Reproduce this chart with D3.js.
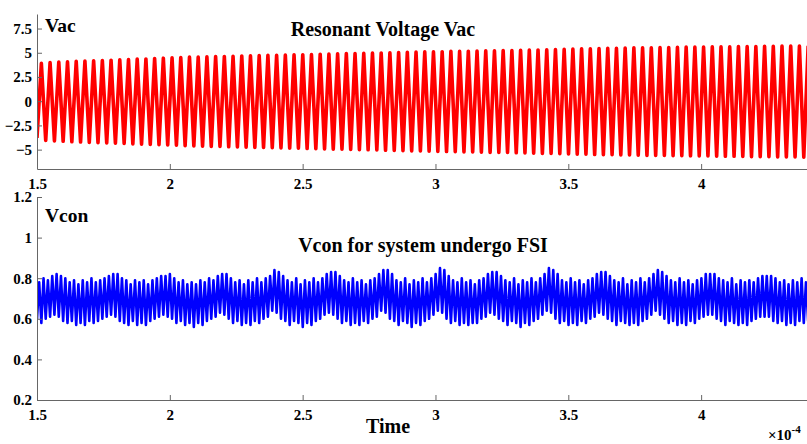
<!DOCTYPE html>
<html>
<head>
<meta charset="utf-8">
<script src="https://cdn.jsdelivr.net/npm/d3@7"></script>
<style>
  body { margin: 0; background: #fff; }
  svg text { font-family: "Liberation Serif", "Times New Roman", serif; font-weight: bold; fill: #000; }
</style>
</head>
<body>
<div id="chart"></div>
<script>
// tick labels
const xTicks = [1.5, 2, 2.5, 3, 3.5, 4];
const vacTicks = [-5, -2.5, 0, 2.5, 5, 7.5];
const vconTicks = [0.2, 0.4, 0.6, 0.8, 1, 1.2];

// time axis in units of 1e-4 s
const tStart = 1.5;
const vacPeriod = 0.0328;   // one Vac cycle
const vconPeriod = 0.0164;  // one Vcon ripple cycle

// Vac: peak and trough of each cycle
const vacPeak = [
  3.90,3.98,4.03,4.07,4.11,4.15,4.16,4.20,4.23,4.26,
  4.30,4.34,4.36,4.41,4.44,4.47,4.51,4.55,4.56,4.58,
  4.61,4.62,4.64,4.67,4.68,4.70,4.73,4.74,4.76,4.79,
  4.80,4.82,4.85,4.86,4.88,4.91,4.92,4.94,4.97,4.98,
  5.00,5.03,5.04,5.06,5.09,5.10,5.11,5.14,5.14,5.16,
  5.18,5.19,5.20,5.23,5.23,5.25,5.28,5.29,5.31,5.34,
  5.35,5.37,5.40,5.41,5.43,5.46,5.46,5.48,5.50,5.51,
  5.52,5.54,5.54,5.56,5.58,5.58,5.59,5.61,5.61,5.62,
  5.64,5.64,5.65,5.67,5.67,5.68,5.70,5.70,5.72
];
const vacTrough = [
  -3.80,-4.05,-4.10,-4.14,-4.19,-4.22,-4.25,-4.29,-4.31,-4.34,
  -4.37,-4.41,-4.43,-4.46,-4.50,-4.52,-4.55,-4.60,-4.62,-4.65,
  -4.66,-4.68,-4.71,-4.72,-4.74,-4.77,-4.78,-4.80,-4.83,-4.84,
  -4.86,-4.89,-4.90,-4.92,-4.95,-4.96,-4.98,-5.01,-5.02,-5.04,
  -5.07,-5.08,-5.10,-5.13,-5.14,-5.16,-5.19,-5.20,-5.21,-5.24,
  -5.24,-5.26,-5.28,-5.29,-5.30,-5.33,-5.34,-5.36,-5.39,-5.40,
  -5.42,-5.45,-5.46,-5.48,-5.51,-5.52,-5.53,-5.56,-5.56,-5.58,
  -5.60,-5.60,-5.61,-5.63,-5.63,-5.64,-5.66,-5.66,-5.67,-5.69,
  -5.69,-5.70,-5.72,-5.72,-5.73,-5.75,-5.75,-5.76,-5.77
];

// Vcon: high and low of each ripple cycle
const vconHigh = [
  0.78,0.80,0.79,0.81,
  0.82,0.81,0.80,0.78,0.79,0.77,0.79,0.78,0.80,0.78,0.79,0.80,0.81,
  0.82,0.82,0.80,0.79,0.77,0.79,0.78,0.79,0.77,0.79,0.80,0.81,
  0.81,0.82,0.80,0.78,0.79,0.77,0.78,0.77,0.79,0.78,0.80,0.79,0.81,
  0.82,0.82,0.80,0.78,0.79,0.77,0.79,0.78,0.80,0.78,0.80,0.81,
  0.84,0.83,0.81,0.79,0.78,0.80,0.77,0.79,0.78,0.80,0.78,0.80,0.82,
  0.83,0.83,0.81,0.79,0.78,0.80,0.78,0.79,0.77,0.79,0.80,0.82,
  0.84,0.84,0.82,0.79,0.78,0.80,0.77,0.79,0.78,0.80,0.78,0.80,0.82,
  0.85,0.84,0.81,0.79,0.78,0.80,0.78,0.79,0.77,0.79,0.80,0.82,
  0.83,0.83,0.81,0.79,0.78,0.80,0.77,0.79,0.78,0.80,0.78,0.80,0.82,
  0.85,0.84,0.82,0.79,0.78,0.80,0.78,0.79,0.77,0.79,0.80,0.82,
  0.83,0.83,0.81,0.79,0.78,0.80,0.77,0.79,0.78,0.80,0.78,0.80,0.82,
  0.84,0.83,0.81,0.79,0.78,0.80,0.78,0.79,0.77,0.79,0.80,0.82,
  0.82,0.82,0.80,0.79,0.78,0.80,0.77,0.79,0.78,0.79,0.78,0.80,0.81,
  0.81,0.81,0.80,0.78,0.79,0.77,0.79,0.78,0.80,0.78,0.79,0.80
];
const vconLow = [
  0.60,0.58,0.60,0.61,
  0.62,0.61,0.59,0.58,0.59,0.57,0.58,0.57,0.59,0.58,0.59,0.60,0.61,
  0.62,0.61,0.59,0.58,0.57,0.59,0.57,0.58,0.57,0.59,0.60,0.61,
  0.62,0.61,0.60,0.58,0.59,0.57,0.58,0.56,0.58,0.57,0.59,0.60,0.61,
  0.63,0.62,0.60,0.58,0.59,0.57,0.58,0.57,0.59,0.58,0.60,0.61,
  0.64,0.63,0.60,0.59,0.57,0.59,0.58,0.56,0.58,0.57,0.59,0.60,0.62,
  0.63,0.62,0.60,0.58,0.59,0.57,0.58,0.57,0.59,0.58,0.60,0.61,
  0.64,0.63,0.60,0.59,0.57,0.59,0.58,0.56,0.58,0.57,0.59,0.60,0.62,
  0.64,0.63,0.60,0.58,0.59,0.57,0.58,0.57,0.58,0.58,0.60,0.61,
  0.63,0.62,0.60,0.59,0.57,0.59,0.58,0.56,0.58,0.57,0.59,0.60,0.62,
  0.64,0.63,0.60,0.58,0.59,0.57,0.58,0.57,0.59,0.58,0.60,0.61,
  0.63,0.62,0.60,0.59,0.57,0.59,0.58,0.57,0.58,0.57,0.59,0.60,0.62,
  0.64,0.62,0.60,0.58,0.59,0.57,0.58,0.57,0.59,0.58,0.60,0.61,
  0.62,0.62,0.60,0.59,0.57,0.59,0.58,0.57,0.58,0.57,0.59,0.60,0.61,
  0.61,0.61,0.59,0.58,0.59,0.57,0.58,0.57,0.59,0.58,0.59,0.60
];

const W = 807, H = 444;
const serif = '"Liberation Serif", "Times New Roman", serif';

const svg = d3.select("#chart").append("svg")
    .attr("width", W).attr("height", H)
    .style("background", "#fff");

const x = d3.scaleLinear().domain([1.5, 4.4]).range([37, 807.4]);
const yVac = d3.scaleLinear().domain([-7, 9]).range([169, 14]);
const yCon = d3.scaleLinear().domain([0.2, 1.2]).range([400, 197]);

// waveform points: low at start of each cycle, high at mid cycle
function wavePoints(lows, highs, period) {
  const pts = [];
  lows.forEach((lo, i) => {
    pts.push([tStart + i * period, lo]);
    pts.push([tStart + (i + 0.5) * period, highs[i]]);
  });
  return pts;
}

const defs = svg.append("defs");
defs.append("clipPath").attr("id", "clipTop")
  .append("rect").attr("x", 37).attr("y", 10).attr("width", W - 37).attr("height", 159);
defs.append("clipPath").attr("id", "clipBot")
  .append("rect").attr("x", 37).attr("y", 197).attr("width", W - 37).attr("height", 203);

svg.append("path")
    .datum(wavePoints(vacTrough, vacPeak, vacPeriod))
    .attr("clip-path", "url(#clipTop)")
    .attr("fill", "none")
    .attr("stroke", "#ff0000")
    .attr("stroke-width", 3.6)
    .attr("stroke-linejoin", "round")
    .attr("d", d3.line().x(d => x(d[0])).y(d => yVac(d[1])));

svg.append("path")
    .datum(wavePoints(vconLow, vconHigh, vconPeriod))
    .attr("clip-path", "url(#clipBot)")
    .attr("fill", "none")
    .attr("stroke", "#0000ff")
    .attr("stroke-width", 2.6)
    .attr("stroke-linejoin", "round")
    .attr("d", d3.line().x(d => x(d[0])).y(d => yCon(d[1])));

// axes, ticks pointing inward
function styleAxis(g) {
  g.attr("font-family", serif).attr("font-size", 15).attr("font-weight", "bold");
  g.select(".domain").attr("stroke", "#666");
  g.selectAll(".tick line").attr("stroke", "#666");
  g.selectAll(".tick text")
    .style("font-family", serif)
    .style("font-weight", "bold")
    .style("font-size", "15px")
    .style("fill", "#000");
}

const xAxis = d3.axisBottom(x).tickValues(xTicks).tickFormat(d3.format(""))
    .tickSizeInner(-5).tickSizeOuter(0).tickPadding(9);

svg.append("g").attr("transform", "translate(0,169)")
  .call(xAxis).call(styleAxis);
svg.append("g").attr("transform", "translate(37,0)")
  .call(d3.axisLeft(yVac).tickValues(vacTicks).tickFormat(d3.format(""))
    .tickSizeInner(-5).tickSizeOuter(0).tickPadding(5))
  .call(styleAxis);

svg.append("g").attr("transform", "translate(0,400)")
  .call(xAxis).call(styleAxis);
svg.append("g").attr("transform", "translate(37,0)")
  .call(d3.axisLeft(yCon).tickValues(vconTicks).tickFormat(d3.format(""))
    .tickSizeInner(-5).tickSizeOuter(0).tickPadding(5))
  .call(styleAxis);

// labels
svg.append("text").attr("x", 45).attr("y", 32).attr("font-size", 19.5).text("Vac");
svg.append("text").attr("x", 383).attr("y", 36).attr("text-anchor", "middle").attr("font-size", 20).text("Resonant Voltage Vac");
svg.append("text").attr("x", 45).attr("y", 222).attr("font-size", 19.5).text("Vcon");
svg.append("text").attr("x", 423).attr("y", 252).attr("text-anchor", "middle").attr("font-size", 20).text("Vcon for system undergo FSI");
svg.append("text").attr("x", 388).attr("y", 433).attr("text-anchor", "middle").attr("font-size", 20).text("Time");

const exp = svg.append("text").attr("x", 768).attr("y", 440).attr("font-size", 15);
exp.append("tspan").text("×10");
exp.append("tspan").attr("dy", -7).attr("font-size", 11).text("-4");
</script>
</body>
</html>
